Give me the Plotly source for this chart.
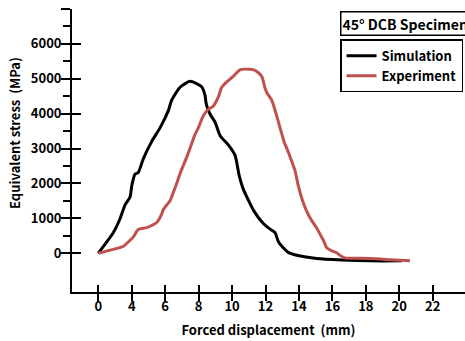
import plotly.graph_objects as go

# x in axis units (tick spacing 2 per labelled tick), y in MPa
sim_x = [0, 0.90, 1.30, 1.60, 1.90, 2.00, 2.09, 2.19, 2.39, 2.69, 3.19, 3.69, 4.19, 4.39, 4.89,
         5.48, 6.18, 6.38, 6.46, 6.68, 6.98, 7.28, 7.82, 8.18, 8.43, 8.67, 9.31, 9.87, 10.27,
         10.57, 10.77, 11.06, 11.36, 11.94, 13.06, 14.56, 16.25, 18.15]
sim_y = [0, 593, 990, 1389, 1614, 1930, 2118, 2265, 2315, 2706, 3199, 3593, 4089, 4386, 4757,
         4929, 4772, 4534, 4267, 3991, 3763, 3377, 3080, 2806, 2218, 1838, 1208, 854, 692,
         593, 332, 157, 26, -65, -149, -191, -217, -217]

exp_x = [0, 0.90, 1.50, 1.90, 2.09, 2.39, 2.89, 3.51, 3.79, 3.89, 4.29, 4.49, 4.68, 4.89, 5.29,
         5.48, 5.78, 5.98, 6.28, 6.56, 6.88, 7.18, 7.38, 7.70, 8.07, 8.47, 9.07, 9.37, 9.57,
         9.79, 9.97, 10.09, 10.37, 10.63, 10.87, 11.11, 11.36, 11.66, 11.76, 11.96, 12.18,
         12.46, 12.72, 13.06, 13.26, 13.46, 13.66, 13.92, 14.26, 14.52, 14.75, 16.25, 17.45, 18.64]
exp_y = [0, 112, 201, 373, 462, 679, 736, 888, 1119, 1254, 1505, 1749, 1992, 2285, 2756,
         3000, 3398, 3593, 3941, 4119, 4223, 4484, 4757, 4920, 5067, 5257, 5271, 5242, 5175,
         5052, 4733, 4593, 4386, 4000, 3593, 3199, 2903, 2512, 2374, 1938, 1559,
         1208, 966, 723, 548, 373, 157, 78, 13, -78, -131, -149, -183, -217]

x_tickvals = [0, 2, 4, 6, 8, 10, 12, 14, 16, 18, 20]
x_ticktext = ["0", "4", "6", "8", "10", "12", "14", "16", "18", "20", "22"]
y_tickvals = [0, 1000, 2000, 3000, 4000, 5000, 6000, 7000]
y_ticktext = ["0", "1000", "2000", "3000", "4000", "5000", "6000", ""]
y_minor = [500, 1500, 2500, 3500, 4500, 5500, 6500]

FONT = "Noto Sans CJK KR"
XR = [-1.573, 21.93]
YR = [-1110, 7000]

fig = go.Figure()
fig.add_trace(go.Scatter(x=sim_x, y=sim_y, mode="lines", name="<b>Simulation</b>",
                         line=dict(color="#000000", width=3, shape="spline", smoothing=0.6)))
fig.add_trace(go.Scatter(x=exp_x, y=exp_y, mode="lines", name="<b>Experiment</b>",
                         line=dict(color="#c0504d", width=3, shape="spline", smoothing=0.6)))

fig.update_layout(
    width=465, height=341,
    margin=dict(l=72, r=0, t=9, b=49, autoexpand=False),
    paper_bgcolor="white", plot_bgcolor="white",
    font=dict(family=FONT, size=13, color="black"),
    showlegend=True,
    legend=dict(x=0.995, xanchor="right", y=0.893, yanchor="top",
                bordercolor="black", borderwidth=1.5, bgcolor="white",
                font=dict(family=FONT, size=13, color="black"),
                itemwidth=30, tracegroupgap=0),
    xaxis=dict(range=XR, showline=True, linecolor="black", linewidth=1.8,
               showgrid=False, zeroline=False, ticks="outside", ticklen=7,
               tickwidth=1.6, tickcolor="black", automargin=False, tickangle=0,
               ticklabelstandoff=-6,
               tickvals=x_tickvals, ticktext=["<b>%s</b>" % t for t in x_ticktext],
               tickfont=dict(family=FONT, size=13),
               title=dict(text="<b>Forced displacement  (mm)</b>", standoff=12,
                          font=dict(family=FONT, size=13))),
    xaxis2=dict(range=XR, overlaying="x", showline=False, showgrid=False, zeroline=False,
                ticks="inside", ticklen=7, tickwidth=1.6, tickcolor="black", automargin=False,
                tickvals=x_tickvals, showticklabels=False),
    yaxis=dict(range=YR, showline=True, linecolor="black", linewidth=1.8,
               showgrid=False, zeroline=False, ticks="outside", ticklen=9,
               tickwidth=1.6, tickcolor="black", automargin=False,
               ticklabelstandoff=-3,
               tickvals=y_tickvals, ticktext=["<b>%s</b>" % t for t in y_ticktext],
               tickfont=dict(family=FONT, size=13),
               minor=dict(tickvals=y_minor, ticks="outside", ticklen=7, tickwidth=1.6,
                          tickcolor="black", showgrid=False)),
    yaxis2=dict(range=YR, overlaying="y", showline=False, showgrid=False, zeroline=False,
                ticks="inside", ticklen=9, tickwidth=1.6, tickcolor="black", automargin=False,
                tickvals=y_tickvals, showticklabels=False),
    annotations=[
        dict(xref="paper", yref="paper", x=0.682, y=0.993,
             xanchor="left", yanchor="top", showarrow=False,
             text="<b>45° DCB Specimen</b>",
             font=dict(family=FONT, size=14, color="black"),
             bordercolor="black", borderwidth=1.5, borderpad=1, bgcolor="white"),
        dict(xref="paper", yref="paper", x=-0.145, y=0.562,
             xanchor="center", yanchor="middle", showarrow=False, textangle=-90,
             text="<b>Equivalent stress  (MPa)</b>",
             font=dict(family=FONT, size=13, color="black")),
    ],
)
# invisible trace to activate overlay axes
fig.add_trace(go.Scatter(x=[None], y=[None], xaxis="x2", yaxis="y2",
                         showlegend=False, hoverinfo="skip"))

fig.write_html("out.html", config={"displayModeBar": False},
               post_script="document.body.style.margin='0';")
